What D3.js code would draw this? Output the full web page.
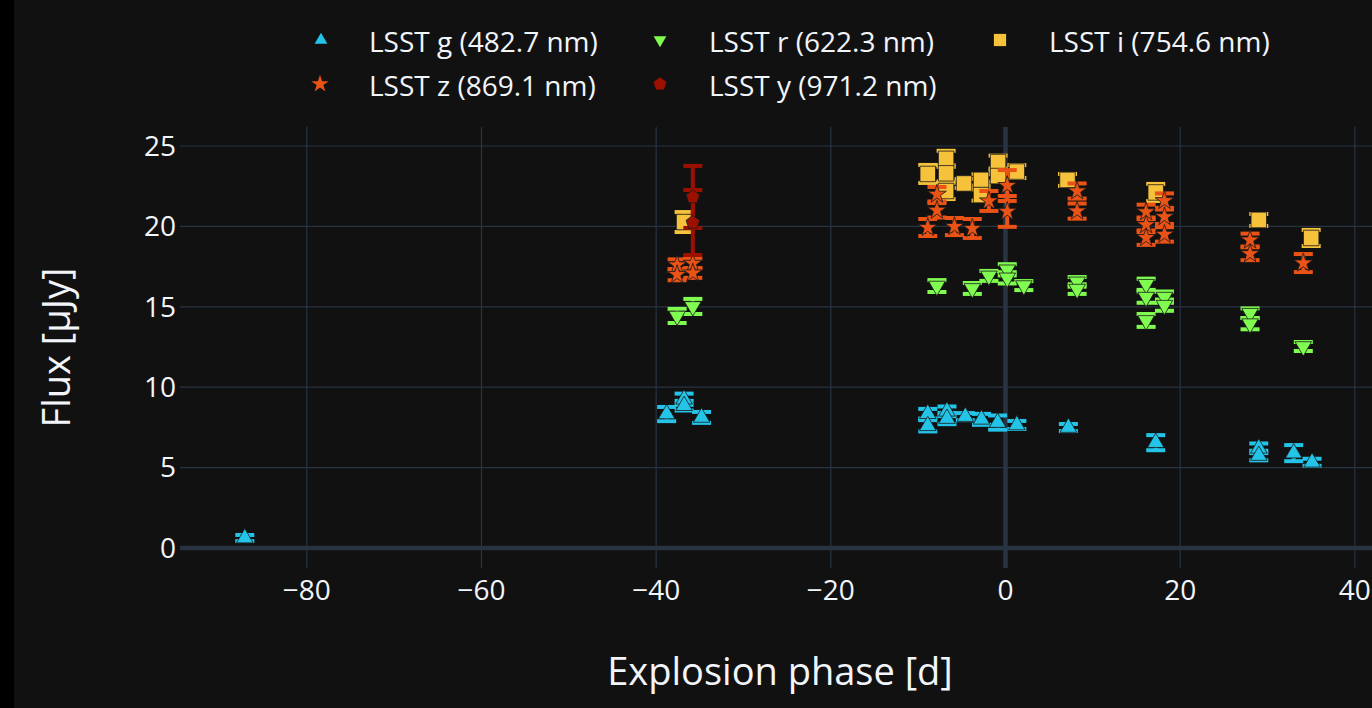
<!DOCTYPE html>
<html>
<head>
<meta charset="utf-8">
<script src="https://d3js.org/d3.v7.min.js"></script>
<style>
body { margin: 0; background: #000; }
svg { display: block; font-family: "Open Sans", sans-serif; }
</style>
</head>
<body>
<svg id="chart" width="1372" height="708"></svg>
<script>
// LSST g
const gPhase = [-87.1, -38.8, -36.8, -36.8, -34.8, -8.9, -8.9, -6.7, -6.7, -4.6, -2.75, -0.9, 1.3, 7.2, 17.2, 29.0, 29.0, 33.0, 35.1];
const gFlux  = [0.62, 8.33, 9.25, 8.85, 8.12, 8.35, 7.6, 8.5, 8.05, 8.17, 8.0, 7.8, 7.65, 7.49, 6.55, 6.2, 5.75, 5.9, 5.33];
const gErr   = [0.19, 0.44, 0.35, 0.3, 0.34, 0.3, 0.35, 0.3, 0.35, 0.22, 0.34, 0.44, 0.25, 0.22, 0.47, 0.3, 0.3, 0.5, 0.22];
// LSST r
const rPhase = [-37.6, -35.8, -7.85, -3.8, -1.9, 0.2, 0.2, 2.1, 8.2, 8.2, 16.1, 16.1, 16.1, 18.2, 18.2, 28.0, 28.0, 34.1];
const rFlux  = [14.43, 15.02, 16.29, 16.14, 16.92, 17.3, 16.8, 16.32, 16.55, 16.1, 16.4, 15.6, 14.15, 15.6, 15.1, 14.6, 13.95, 12.53];
const rErr   = [0.44, 0.47, 0.37, 0.34, 0.31, 0.35, 0.35, 0.28, 0.3, 0.3, 0.35, 0.35, 0.4, 0.35, 0.35, 0.3, 0.35, 0.28];
// LSST i
const iPhase = [-36.8, -8.9, -6.8, -6.8, -6.8, -4.75, -2.8, -2.8, -0.85, -0.85, 1.3, 7.1, 17.2, 29.0, 35.0];
const iFlux  = [20.27, 23.26, 24.2, 23.3, 22.2, 22.67, 22.89, 21.95, 24.0, 23.13, 23.41, 22.89, 22.11, 20.4, 19.28];
const iErr   = [0.62, 0.56, 0.5, 0.5, 0.5, 0.28, 0.35, 0.35, 0.4, 0.35, 0.4, 0.37, 0.53, 0.37, 0.5];
// LSST z
const zPhase = [-37.6, -37.6, -35.8, -35.8, -8.9, -7.85, -7.85, -5.85, -3.8, -1.9, 0.2, 0.2, 8.2, 8.2, 16.1, 16.1, 16.1, 18.2, 18.2, 18.2, 28.0, 28.0, 34.1];
const zFlux  = [17.6, 17.0, 17.7, 17.1, 19.93, 22.0, 21.0, 19.99, 19.87, 21.58, 22.54, 20.93, 22.2, 20.95, 20.9, 20.1, 19.3, 21.6, 20.6, 19.5, 19.15, 18.3, 17.72];
const zErr   = [0.35, 0.35, 0.3, 0.3, 0.53, 0.45, 0.45, 0.53, 0.59, 0.62, 0.96, 0.96, 0.47, 0.47, 0.45, 0.45, 0.45, 0.45, 0.45, 0.45, 0.4, 0.4, 0.56];
// LSST y
const yPhase = [-35.8, -35.8];
const yFlux  = [21.83, 20.24];
const yErr   = [1.93, 2.02];

const bandNames = ["LSST g (482.7 nm)", "LSST r (622.3 nm)", "LSST i (754.6 nm)", "LSST z (869.1 nm)", "LSST y (971.2 nm)"];
const xTicks = [-80, -60, -40, -20, 0, 20, 40];
const yTicks = [0, 5, 10, 15, 20, 25];

// custom pentagon symbol
const symbolPentagon = {
  draw(ctx, size) {
    const r = Math.sqrt(size / 2.378);
    for (let k = 0; k < 5; k++) {
      const a = -Math.PI / 2 + k * 2 * Math.PI / 5;
      const px = r * Math.cos(a), py = r * Math.sin(a);
      if (k === 0) ctx.moveTo(px, py); else ctx.lineTo(px, py);
    }
    ctx.closePath();
  }
};

function pack(xs, ys, es) {
  return xs.map((x, i) => ({x: x, y: ys[i], e: es[i]}));
}

// size = marker area in the plot, leg = area in the legend
const bands = [
  {name: bandNames[0], pts: pack(gPhase, gFlux, gErr), color: "#24c4e8", sym: d3.symbolTriangle, size: 120, leg: 70, rot: 0},
  {name: bandNames[1], pts: pack(rPhase, rFlux, rErr), color: "#80fc50", sym: d3.symbolTriangle, size: 120, leg: 70, rot: 180},
  {name: bandNames[2], pts: pack(iPhase, iFlux, iErr), color: "#f6c23c", sym: d3.symbolSquare, size: 240, leg: 150, rot: 0},
  {name: bandNames[3], pts: pack(zPhase, zFlux, zErr), color: "#ea5216", sym: d3.symbolStar, size: 110, leg: 95, rot: 0},
  {name: bandNames[4], pts: pack(yPhase, yFlux, yErr), color: "#9c1000", sym: symbolPentagon, size: 120, leg: 110, rot: 0}
];

const svg = d3.select("#chart");
const pLeft = 180, pRight = 1380, pTop = 127, pBottom = 568;

svg.append("rect").attr("x", 14).attr("y", 0).attr("width", 1372).attr("height", 708).attr("fill", "#111111");

const x = d3.scaleLinear().domain([-94.52, 42.88]).range([pLeft, pRight]);
const y = d3.scaleLinear().domain([-1.244, 26.18]).range([pBottom, pTop]);

// grid
svg.append("g").selectAll("line").data(xTicks.filter(d => d !== 0)).join("line")
  .attr("x1", d => x(d)).attr("x2", d => x(d)).attr("y1", pTop).attr("y2", pBottom)
  .attr("stroke", "#283442").attr("stroke-width", 1.2);
svg.append("g").selectAll("line").data(yTicks.filter(d => d !== 0)).join("line")
  .attr("x1", pLeft).attr("x2", pRight).attr("y1", d => y(d)).attr("y2", d => y(d))
  .attr("stroke", "#283442").attr("stroke-width", 1.2);

// zero lines
svg.append("line").attr("x1", x(0)).attr("x2", x(0)).attr("y1", pTop).attr("y2", pBottom)
  .attr("stroke", "#283442").attr("stroke-width", 4.5);
svg.append("line").attr("x1", pLeft).attr("x2", pRight).attr("y1", y(0)).attr("y2", y(0))
  .attr("stroke", "#283442").attr("stroke-width", 4.5);

// tick labels
svg.append("g").selectAll("text").data(xTicks).join("text")
  .attr("x", d => x(d)).attr("y", 590).attr("dy", "0.35em")
  .attr("text-anchor", "middle").attr("fill", "#f2f5fa").attr("font-size", 28)
  .text(d => d < 0 ? "\u2212" + Math.abs(d) : d);
svg.append("g").selectAll("text").data(yTicks).join("text")
  .attr("x", 176).attr("y", d => y(d)).attr("dy", "0.35em")
  .attr("text-anchor", "end").attr("fill", "#f2f5fa").attr("font-size", 28)
  .text(d => d);

// axis titles
svg.append("text").attr("x", (pLeft + pRight) / 2).attr("y", 672).attr("dy", "0.35em")
  .attr("text-anchor", "middle").attr("fill", "#f2f5fa").attr("font-size", 38)
  .text("Explosion phase [d]");
svg.append("text").attr("transform", `translate(57,${(pTop + pBottom) / 2}) rotate(-90)`)
  .attr("dy", "0.35em").attr("text-anchor", "middle").attr("fill", "#f2f5fa").attr("font-size", 38)
  .text("Flux [μJy]");

// traces
const plot = svg.append("g");
const capHalf = 9.5;
bands.forEach(b => {
  const g = plot.append("g");
  const eb = g.append("g").attr("stroke", b.color).attr("stroke-width", 4);
  b.pts.forEach(p => {
    const cx = x(p.x), y1 = y(p.y + p.e), y2 = y(p.y - p.e);
    eb.append("line").attr("x1", cx).attr("x2", cx).attr("y1", y1).attr("y2", y2);
    eb.append("line").attr("x1", cx - capHalf).attr("x2", cx + capHalf).attr("y1", y1).attr("y2", y1);
    eb.append("line").attr("x1", cx - capHalf).attr("x2", cx + capHalf).attr("y1", y2).attr("y2", y2);
  });
  g.append("g").selectAll("path").data(b.pts).join("path")
    .attr("d", d3.symbol().type(b.sym).size(b.size))
    .attr("transform", d => `translate(${x(d.x)},${y(d.y)}) rotate(${b.rot})`)
    .attr("fill", b.color).attr("stroke", "#1a1a1a").attr("stroke-width", 0.8);
});

// legend
const legPos = [[321, 369, 42], [660, 709, 42], [1000, 1049, 42], [320, 369, 86], [660, 709, 86]];
bands.forEach((b, i) => {
  const [mx, tx, ly] = legPos[i];
  svg.append("path").attr("d", d3.symbol().type(b.sym).size(b.leg))
    .attr("transform", `translate(${mx},${ly - 2}) rotate(${b.rot})`)
    .attr("fill", b.color);
  svg.append("text").attr("x", tx).attr("y", ly).attr("dy", "0.35em")
    .attr("fill", "#f2f5fa").attr("font-size", 28).text(b.name);
});
</script>
</body>
</html>
